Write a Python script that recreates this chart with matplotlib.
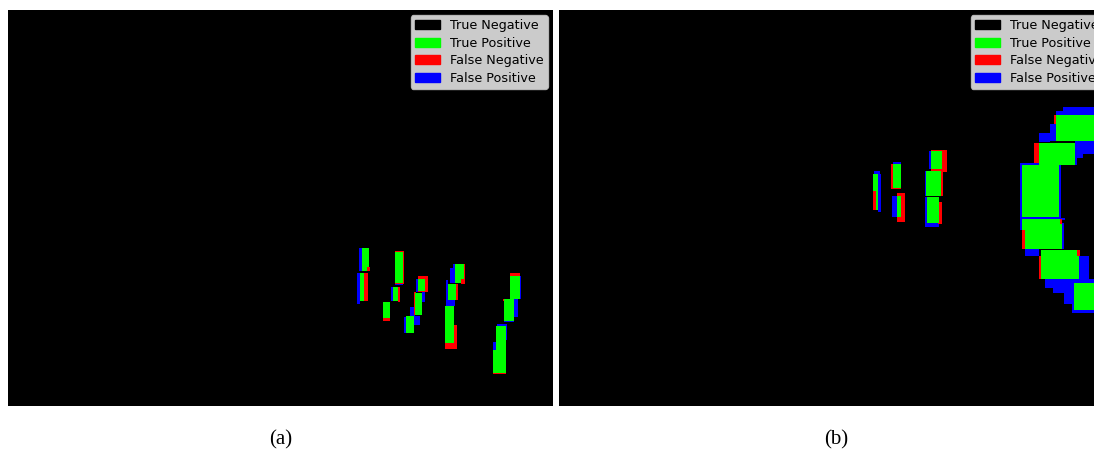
import numpy as np
import matplotlib.pyplot as plt
import matplotlib.patches as mpatches
from matplotlib.colors import ListedColormap

# class codes: 0 TN, 1 TP, 2 FN, 3 FP
class_names = ['True Negative', 'True Positive', 'False Negative', 'False Positive']
class_colors = ['#000000', '#00ff00', '#ff0000', '#0000ff']

# mask regions as (x0, x1, y0, y1) in image pixels, one list per class
a_shape = (396, 545)
a_fp = [(351, 354, 238, 261), (349, 352, 263, 294), (387, 395, 273, 275), (383, 385, 277, 291),
        (408, 411, 269, 282), (414, 417, 282, 292), (402, 407, 297, 306), (396, 398, 307, 323),
        (406, 412, 306, 315), (442, 447, 258, 273), (445, 447, 254, 258), (438, 440, 270, 295),
        (438, 447, 290, 296), (512, 513, 266, 289), (506, 510, 289, 307), (496, 506, 310, 312),
        (489, 499, 314, 316), (485, 488, 332, 340), (497, 499, 316, 330)]
a_fn = [(359, 362, 257, 261), (356, 360, 263, 291), (387, 396, 241, 274), (390, 392, 277, 292),
        (375, 382, 292, 311), (410, 420, 266, 282), (406, 408, 282, 305), (405, 406, 317, 323),
        (456, 457, 254, 269), (453, 457, 269, 274), (448, 450, 274, 290), (437, 449, 333, 339),
        (446, 449, 315, 333), (502, 512, 263, 266), (495, 497, 289, 291), (485, 498, 363, 364)]
a_tp = [(354, 361, 238, 257), (354, 359, 257, 261), (352, 356, 263, 291), (387, 395, 242, 273),
        (385, 390, 277, 291), (375, 382, 292, 308), (410, 417, 269, 281), (407, 414, 283, 305),
        (398, 406, 306, 323), (447, 456, 254, 269), (447, 453, 269, 273), (440, 448, 274, 290),
        (437, 446, 296, 333), (502, 512, 266, 289), (496, 506, 289, 311), (488, 498, 316, 340),
        (485, 498, 340, 363)]

b_shape = (396, 554)
b_fp = [(315, 321, 161, 165), (319, 322, 164, 202), (334, 342, 152, 154), (333, 338, 186, 207),
        (370, 372, 141, 159), (366, 367, 161, 186), (366, 380, 187, 217),
        (504, 554, 97, 105), (497, 504, 101, 105), (491, 497, 114, 131), (480, 491, 123, 132),
        (516, 554, 131, 144), (516, 524, 144, 148), (516, 518, 148, 155), (461, 502, 153, 209),
        (461, 464, 209, 220), (461, 506, 208, 210), (503, 505, 213, 239), (466, 480, 239, 246),
        (520, 530, 246, 269), (486, 554, 269, 278), (494, 554, 278, 283), (505, 554, 283, 294),
        (513, 554, 294, 303), (514, 554, 272, 302)]
b_fn = [(314, 317, 181, 200), (332, 334, 154, 179), (332, 342, 178, 179), (338, 346, 183, 212),
        (372, 388, 140, 162), (382, 384, 161, 186), (379, 383, 192, 214), (495, 498, 105, 114),
        (475, 480, 133, 153), (463, 466, 220, 239), (501, 503, 209, 214), (480, 483, 246, 269),
        (518, 521, 240, 246)]
b_tp = [(314, 319, 164, 181), (317, 319, 181, 200), (334, 342, 154, 178), (338, 342, 186, 207),
        (372, 383, 141, 159), (367, 382, 161, 186), (368, 380, 187, 213), (497, 554, 105, 131),
        (480, 516, 133, 155), (463, 500, 155, 207), (466, 501, 209, 239), (501, 503, 214, 239),
        (463, 466, 209, 220), (482, 520, 246, 269), (482, 518, 240, 246), (515, 554, 273, 300)]


def build_mask(shape, fp, fn, tp):
    m = np.zeros(shape, dtype=int)
    for code, rects in ((3, fp), (2, fn), (1, tp)):
        for x0, x1, y0, y1 in rects:
            m[y0:y1, x0:x1] = code
    return m


cmap = ListedColormap(class_colors)
handles = [mpatches.Patch(color=c, label=n) for c, n in zip(class_colors, class_names)]

fig = plt.figure(figsize=(10.94, 4.49), dpi=100)
W, H = 1094, 449
panels = [
    ((8, 10, 545, 396), build_mask(a_shape, a_fp, a_fn, a_tp), '(a)'),
    ((559, 10, 554, 396), build_mask(b_shape, b_fp, b_fn, b_tp), '(b)'),
]
for (px, py, pw, ph), mask, cap in panels:
    ax = fig.add_axes([px / W, 1 - (py + ph) / H, pw / W, ph / H])
    ax.imshow(mask, cmap=cmap, vmin=0, vmax=3, interpolation='nearest', aspect='auto')
    ax.set_axis_off()
    ax.legend(handles=handles, loc='upper right', fontsize=9.2, borderaxespad=0.4,
              labelspacing=0.37, borderpad=0.3)
    fig.text((px + pw / 2) / W, 1 - 440 / H, cap, ha='center', va='center',
             family='Liberation Serif', fontsize=15)

fig.savefig('out.png', dpi=100)
